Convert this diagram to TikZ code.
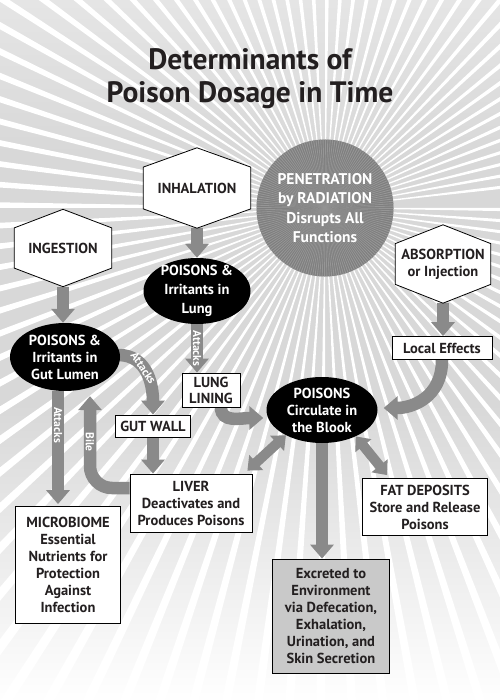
\documentclass[tikz,border=0pt]{standalone}
\usepackage{fontspec}
\setmainfont{PT Sans}
\usetikzlibrary{arrows.meta,calc,fadings,shapes.geometric}
\pgfdeclarelayer{bg}
\pgfdeclarelayer{arr}
\pgfdeclarelayer{hex}
\pgfsetlayers{bg,arr,hex,main}
\definecolor{arrowgray}{HTML}{8A8A8A}
\definecolor{bggray}{HTML}{D8D8D8}
\definecolor{radgray}{HTML}{7E7E7E}
\definecolor{radray}{HTML}{969696}
\definecolor{boxgray}{HTML}{C9C9C9}
\definecolor{ink}{HTML}{231F20}
\newcommand\myfs[2]{\fontsize{#1}{#2}\selectfont}
\newcommand\hexdraw[1]{\draw[hexline] (#1.north) -- ($(#1.north east)!0.24!(#1.south east)$) -- ($(#1.north east)!0.76!(#1.south east)$) -- (#1.south) -- ($(#1.north west)!0.76!(#1.south west)$) -- ($(#1.north west)!0.24!(#1.south west)$) -- cycle;}
\tikzset{
  txt/.style={font=\bfseries\myfs{14.5}{17}, text=ink, align=center},
  hexnode/.style={txt, rectangle, inner sep=0pt},
  hexline/.style={draw=black, fill=white, line width=0.8pt, line join=miter},
  ellnode/.style={ellipse, fill=black, text=white, font=\bfseries\myfs{14.5}{17}, align=center, inner sep=-16pt},
  boxnode/.style={txt, rectangle, draw=black, fill=white, line width=0.8pt, inner sep=0pt},
  bigarrow/.style={draw=arrowgray, line width=12.5pt, -{Triangle[width=23pt,length=14pt]}},
  dblarrow/.style={draw=arrowgray, line width=10pt, {Triangle[width=20pt,length=12pt]}-{Triangle[width=20pt,length=12pt]}},
  lbl/.style={text=white, font=\bfseries\myfs{11.5}{12}, inner sep=0pt}
}
\begin{document}
\begin{tikzpicture}[x=1pt,y=-1pt]
\useasboundingbox (0,0) rectangle (500,700);
% nodes
\node[txt, font=\bfseries\myfs{29.5}{33}] (title) at (250,79) {Determinants of\\Poison Dosage in Time};
\node[hexnode, minimum width=107pt, minimum height=80pt] (inh) at (197,188) {INHALATION};
\node[hexnode, minimum width=97pt, minimum height=77pt] (ing) at (63,248) {INGESTION};
\node[hexnode, minimum width=95pt, minimum height=78pt] (abs) at (443,264) {ABSORPTION\\or Injection};
\node[circle, inner sep=-30pt, minimum size=137pt, text=white, font=\bfseries\myfs{15.5}{19.5}, align=center] (rad) at (325,208) {PENETRATION\\by RADIATION\\Disrupts All\\Functions};
\node[ellnode, minimum width=107pt, minimum height=66pt, font=\bfseries\myfs{14.5}{19}] (lung) at (197,291) {POISONS \&\\Irritants in\\Lung};
\node[ellnode, minimum width=110pt, minimum height=68pt] (gut) at (65,357) {POISONS \&\\Irritants in\\Gut Lumen};
\node[ellnode, minimum width=111pt, minimum height=66pt] (blood) at (322,410) {POISONS\\Circulate in\\the Blook};
\node[boxnode, minimum width=100pt, minimum height=23pt] (local) at (442,348) {Local Effects};
\node[boxnode, minimum width=58pt, minimum height=34pt, font=\bfseries\myfs{14.5}{16}] (lining) at (211,390) {LUNG\\LINING};
\node[boxnode, minimum width=75pt, minimum height=22pt] (gutwall) at (153,426) {GUT WALL};
\node[boxnode, minimum width=122pt, minimum height=58pt] (liver) at (191,503) {LIVER\\Deactivates and\\Produces Poisons};
\node[boxnode, minimum width=105pt, minimum height=117pt] (micro) at (68,565) {MICROBIOME\\Essential\\Nutrients for\\Protection\\Against\\Infection};
\node[boxnode, minimum width=125pt, minimum height=57pt] (fat) at (425,507) {FAT DEPOSITS\\Store and Release\\Poisons};
\node[boxnode, fill=boxgray, minimum width=117pt, minimum height=114pt] (excr) at (331,616) {Excreted to\\Environment\\via Defecation,\\Exhalation,\\Urination, and\\Skin Secretion};
% hexagons
\begin{pgfonlayer}{hex}
\hexdraw{inh}
\hexdraw{ing}
\hexdraw{abs}
\end{pgfonlayer}
% background
\begin{pgfonlayer}{bg}
\fill[bggray] (0,0) rectangle (500,700);
\begin{scope}
\clip (0,0) rectangle (500,700);
\foreach \a in {0,3.6,...,356.4} {
  \fill[white] (rad.center) -- ($(rad.center)+(\a:900)$) -- ($(rad.center)+(\a+1.0:900)$) -- cycle;
}
\end{scope}
\fill[white, path fading=north] (0,400) rectangle (500,700);
\fill[white, opacity=0.35, path fading=south] (0,0) rectangle (500,160);
\fill[radgray] (rad.center) circle[radius=68.5];
\begin{scope}
\clip (rad.center) circle[radius=68.5];
\foreach \a in {0,2,...,358} {
  \fill[radray] (rad.center) -- ($(rad.center)+(\a:80)$) -- ($(rad.center)+(\a+0.8:80)$) -- cycle;
}
\end{scope}
\end{pgfonlayer}
% arrows
\begin{pgfonlayer}{arr}
\draw[bigarrow] (inh.south) -- (lung.north);
\draw[bigarrow] (ing.south) -- (ing.south |- gut.north);
\draw[bigarrow] (abs.south) -- (abs.south |- local.north);
\draw[bigarrow] (lung.south) -- (lung.south |- lining.north) node[pos=0.5, lbl, rotate=-90] {Attacks};
\draw[bigarrow] ($(gut.south)+(-7,0)$) -- ($(micro.north)+(-10,-2)$) node[pos=0.3, lbl, rotate=-90] {Attacks};
\draw[bigarrow] ($(gut.east)+(-2,-2)$) .. controls +(30,0) and +(0,-28) .. (gutwall.north) node[pos=0.4, lbl, sloped] {Attacks};
\draw[bigarrow, rounded corners=22pt] ($(liver.west)+(0,-15)$) -| ($(gut.south)+(25,5)$) node[pos=0.75, lbl, rotate=-90] {Bile};
\draw[bigarrow] (gutwall.south) -- (gutwall.south |- liver.north);
\draw[bigarrow] ($(lining.south)+(10,0)$) .. controls +(0,16) and +(-22,0) .. ($(blood.west)+(-3,8)$);
\draw[bigarrow] (local.south) .. controls +(0,38) and +(28,0) .. ($(blood.east)+(6,-2)$);
\draw[dblarrow] (blood.215) -- ($(liver.north east)+(-5,-3)$);
\draw[dblarrow] (blood.322) -- ($(fat.north west)+(25,-3)$);
\draw[bigarrow] (blood.south) -- (blood.south |- excr.north);
\end{pgfonlayer}
\end{tikzpicture}
\end{document}
